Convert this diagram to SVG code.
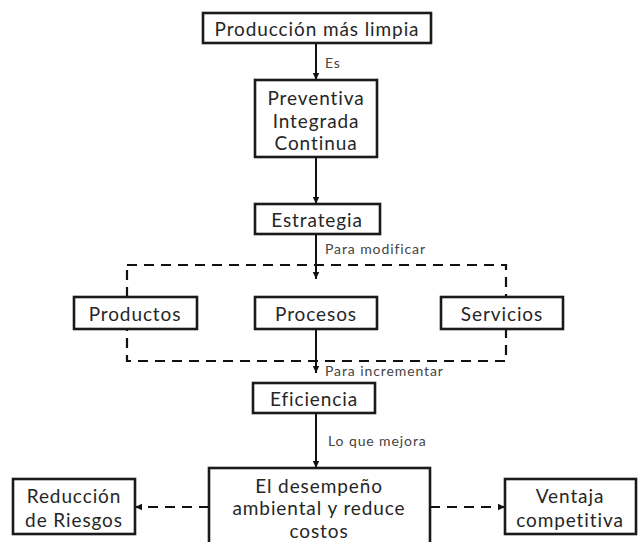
<svg xmlns="http://www.w3.org/2000/svg" width="638" height="542" viewBox="0 0 638 542">
<style>
.box{fill:#fff;stroke:#1a1a1a;stroke-width:2.6}
.t{font-family:Lato,"Open Sans",sans-serif;font-size:19px;letter-spacing:0.9px;fill:#262626;text-anchor:middle;dominant-baseline:central}
.l{font-family:Lato,"Open Sans",sans-serif;font-size:14px;letter-spacing:0.9px;fill:#444;dominant-baseline:central}
.c{stroke:#111;stroke-width:2;fill:none}
.d{stroke:#111;stroke-width:2.2;fill:none;stroke-dasharray:10 7}
</style>
<defs>
<marker id="ah" markerUnits="userSpaceOnUse" markerWidth="8" markerHeight="8" refX="7" refY="4" orient="auto">
<path d="M0,0.8 L7,4 L0,7.2 Z" fill="#111"/>
</marker>
</defs>
<rect width="638" height="542" fill="#fff"/>
<g id="connectors">
<rect class="d" x="127" y="265" width="379" height="96"/>
<line class="c" x1="316" y1="43" x2="316" y2="80" marker-end="url(#ah)"/>
<line class="c" x1="316" y1="157" x2="316" y2="204" marker-end="url(#ah)"/>
<line class="c" x1="316" y1="234" x2="316" y2="279" marker-end="url(#ah)"/>
<line class="c" x1="316" y1="329" x2="316" y2="373" marker-end="url(#ah)"/>
<line class="c" x1="316" y1="413" x2="316" y2="468" marker-end="url(#ah)"/>
<line class="d" x1="209" y1="507" x2="135" y2="507" stroke-dasharray="9 7" marker-end="url(#ah)"/>
<line class="d" x1="430" y1="507" x2="505" y2="507" stroke-dasharray="9 7" marker-end="url(#ah)"/>
<text class="l" x="325" y="62">Es</text>
<text class="l" x="325" y="248">Para modificar</text>
<text class="l" x="325" y="370">Para incrementar</text>
<text class="l" x="328" y="440">Lo que mejora</text>
</g>
<g id="n1"><rect class="box" x="203" y="13" width="228" height="30"/><text class="t" x="317" y="28">Producción más limpia</text></g>
<g id="n2"><rect class="box" x="255" y="80" width="122" height="77"/><text class="t" x="316" y="97">Preventiva</text><text class="t" x="316" y="120">Integrada</text><text class="t" x="316" y="142">Continua</text></g>
<g id="n3"><rect class="box" x="255" y="204" width="125" height="30"/><text class="t" x="317" y="219">Estrategia</text></g>
<g id="n4"><rect class="box" x="74" y="297" width="123" height="32"/><text class="t" x="135" y="313">Productos</text></g>
<g id="n5"><rect class="box" x="255" y="297" width="122" height="32"/><text class="t" x="316" y="313">Procesos</text></g>
<g id="n6"><rect class="box" x="441" y="297" width="122" height="32"/><text class="t" x="502" y="313">Servicios</text></g>
<g id="n7"><rect class="box" x="253" y="383" width="122" height="30"/><text class="t" x="314" y="398">Eficiencia</text></g>
<g id="n8"><rect class="box" x="209" y="468" width="221" height="82"/><text class="t" x="319" y="485">El desempeño</text><text class="t" x="319" y="507">ambiental y reduce</text><text class="t" x="319" y="530">costos</text></g>
<g id="n9"><rect class="box" x="13" y="479" width="122" height="55"/><text class="t" x="74" y="495">Reducción</text><text class="t" x="74" y="519">de Riesgos</text></g>
<g id="n10"><rect class="box" x="505" y="479" width="131" height="55"/><text class="t" x="570" y="495">Ventaja</text><text class="t" x="570" y="519">competitiva</text></g>
</svg>
